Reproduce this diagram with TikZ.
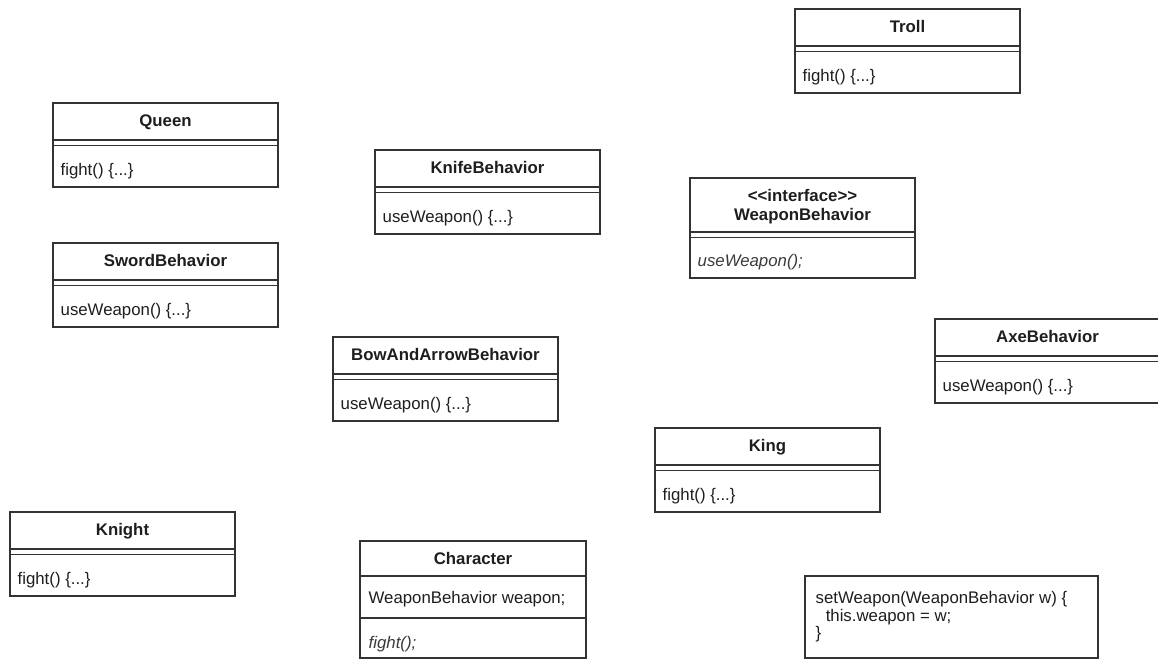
\documentclass[tikz,border=0pt]{standalone}
\usepackage{fontspec}
\setmainfont{Liberation Sans}
\definecolor{linegray}{HTML}{333333}
\definecolor{ink}{HTML}{1E1E1E}
\definecolor{absink}{HTML}{3A3A3A}
% class box: node name, left, top, class name, operation
\newcommand\umlclass[5]{%
  \draw[boxline] (#2,#3) rectangle ++(225,84);
  \draw[boxline] (#2,#3+37) -- ++(225,0) (#2,#3+42.5) -- ++(225,0);
  \node[ttl] (#1) at (#2+112.5,#3+24) {#4};
  \node[op] (#1-op) at (#2+7,#3+73) {#5};
}
\begin{document}
\begin{tikzpicture}[x=0.75pt,y=-0.75pt,line width=1pt,
  boxline/.style={draw=linegray},
  ttl/.style={font=\fontsize{12.6}{14}\selectfont\bfseries,text=ink,inner sep=0pt,anchor=base},
  op/.style={font=\fontsize{12.6}{14}\selectfont,text=ink,inner sep=0pt,anchor=base west},
  absop/.style={op,font=\fontsize{12.6}{14}\selectfont\itshape,text=absink}]
\clip (0,0) rectangle (1158,659);
\fill[white] (0,0) rectangle (1158,659);

\umlclass{troll}{795}{9}{Troll}{fight() \{...\}}
\umlclass{queen}{53}{103}{Queen}{fight() \{...\}}
\umlclass{knife}{375}{150}{KnifeBehavior}{useWeapon() \{...\}}
\umlclass{sword}{53}{243}{SwordBehavior}{useWeapon() \{...\}}
\umlclass{axe}{935}{319}{AxeBehavior}{useWeapon() \{...\}}
\umlclass{bow}{333}{337}{BowAndArrowBehavior}{useWeapon() \{...\}}
\umlclass{king}{655}{428}{King}{fight() \{...\}}
\umlclass{knight}{10}{512}{Knight}{fight() \{...\}}

% interface WeaponBehavior
\draw[boxline] (690,178) rectangle (915,278);
\draw[boxline] (690,232) -- (915,232) (690,237.5) -- (915,237.5);
\node[ttl] (stereo) at (802.5,201.5) {{<}{<}interface{>}{>}};
\node[ttl] (weapon) at (802.5,221) {WeaponBehavior};
\node[absop] (weapon-op) at (697,267) {useWeapon();};

% abstract class Character
\draw[boxline] (360,541) rectangle (586,658);
\draw[boxline] (360,576) -- (586,576) (360,618) -- (586,618);
\node[ttl] (character) at (473,564) {Character};
\node[op] (character-attr) at (368,603) {WeaponBehavior weapon;};
\node[absop] (character-op) at (368,648) {fight();};

% setter note
\draw[boxline] (805,576) rectangle (1098,658);
\node[op] (setter1) at (815,604) {setWeapon(WeaponBehavior w) \{};
\node[op] (setter2) at (815,621) {\hspace*{0.6em}this.weapon = w;};
\node[op] (setter3) at (815,638.5) {\}};
\end{tikzpicture}
\end{document}
